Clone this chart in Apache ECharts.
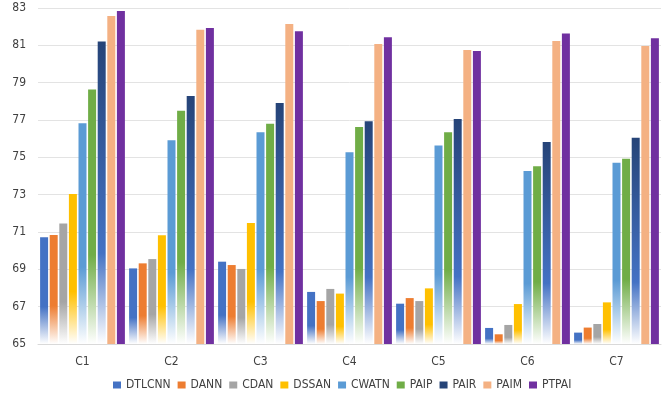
<!DOCTYPE html>
<html>
<head>
<meta charset="utf-8">
<script src="https://cdn.jsdelivr.net/npm/echarts@6/dist/echarts.min.js"></script>
<style>html,body{margin:0;padding:0;background:#fff;}#c{width:670px;height:401px;}</style>
</head>
<body>
<div id="c"></div>
<script>
const categories = ['C1','C2','C3','C4','C5','C6','C7'];
const seriesNames = ['DTLCNN','DANN','CDAN','DSSAN','CWATN','PAIP','PAIR','PAIM','PTPAI'];
const DTLCNN = [70.72, 69.05, 69.41, 67.79, 67.16, 65.86, 65.61];
const DANN   = [70.84, 69.32, 69.23, 67.30, 67.46, 65.52, 65.88];
const CDAN   = [71.45, 69.55, 69.02, 67.95, 67.30, 66.02, 66.07];
const DSSAN  = [73.04, 70.82, 71.48, 67.70, 67.98, 67.14, 67.23];
const CWATN  = [76.82, 75.91, 76.34, 75.27, 75.64, 74.27, 74.71];
const PAIP   = [78.64, 77.50, 76.80, 76.62, 76.34, 74.52, 74.93];
const PAIR   = [81.21, 78.29, 77.91, 76.93, 77.05, 75.82, 76.05];
const PAIM   = [82.57, 81.84, 82.14, 81.07, 80.75, 81.23, 80.96];
const PTPAI  = [82.84, 81.93, 81.75, 81.43, 80.70, 81.64, 81.38];
const yTicks = [65, 67, 69, 71, 73, 75, 77, 79, 81, 83];

const values = [DTLCNN, DANN, CDAN, DSSAN, CWATN, PAIP, PAIR, PAIM, PTPAI];
const colors = ['#4472C4','#ED7D31','#A5A5A5','#FFC000','#5B9BD5','#70AD47','#264478','#F4B183','#7030A0'];
const FONT = '"Liberation Sans Narrow", "DejaVu Sans Condensed", "Open Sans", sans-serif';

function fill(i) {
  const c = colors[i];
  if (i === 7 || i === 8) return c;
  if (i === 6) {
    return new echarts.graphic.LinearGradient(0, 0, 0, 1, [
      {offset: 0, color: '#264478'},
      {offset: 0.7, color: '#4472C4'},
      {offset: 1, color: '#ffffff'}
    ]);
  }
  return new echarts.graphic.LinearGradient(0, 0, 0, 1, [
    {offset: 0, color: c},
    {offset: 0.65, color: c},
    {offset: 1, color: '#ffffff'}
  ]);
}

const chart = echarts.init(document.getElementById('c'), null, {renderer: 'canvas'});
chart.setOption({
  animation: false,
  backgroundColor: '#ffffff',
  textStyle: {fontFamily: FONT},
  grid: {left: 38, right: 9, top: 8, bottom: 57, containLabel: false},
  legend: {
    bottom: 5,
    left: 108,
    itemWidth: 8,
    itemHeight: 7,
    itemGap: 7,
    icon: 'rect',
    textStyle: {fontSize: 12, color: '#404040', fontFamily: FONT},
    data: seriesNames.map((n, i) => ({name: n, itemStyle: {color: colors[i]}}))
  },
  xAxis: {
    type: 'category',
    data: categories,
    axisLine: {lineStyle: {color: '#D9D9D9'}},
    axisTick: {show: false},
    axisLabel: {fontSize: 12, color: '#404040', margin: 12, fontFamily: FONT}
  },
  yAxis: {
    type: 'value',
    min: yTicks[0],
    max: yTicks[yTicks.length - 1],
    interval: 2,
    axisLine: {show: false},
    axisTick: {show: false},
    splitLine: {lineStyle: {color: '#E3E3E3'}},
    axisLabel: {fontSize: 12, color: '#404040', margin: 12, fontFamily: FONT}
  },
  series: seriesNames.map((n, i) => ({
    name: n,
    type: 'bar',
    data: values[i],
    barWidth: 8,
    barGap: '20%',
    itemStyle: {color: fill(i)}
  }))
});
</script>
</body>
</html>
